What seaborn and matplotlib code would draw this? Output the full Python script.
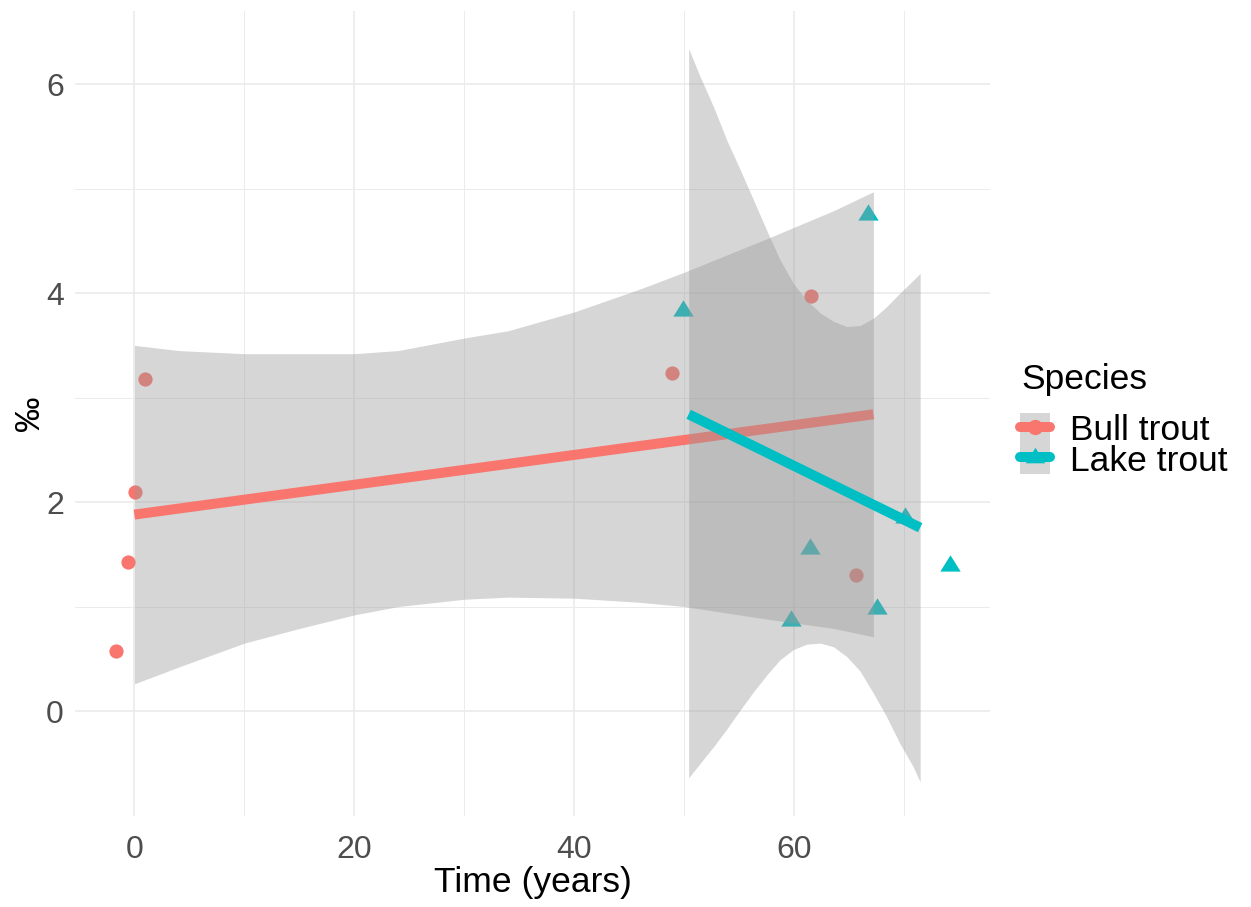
import matplotlib
matplotlib.use("Agg")
import matplotlib.pyplot as plt
import pandas as pd
import seaborn as sns
from matplotlib.lines import Line2D
from matplotlib.patches import Patch

# Observations (years since start, per-mil values)
bull_time = [-1.7, -0.55, 0.1, 1.0, 48.9, 61.5, 65.6]
bull_value = [0.57, 1.43, 2.10, 3.18, 3.24, 3.97, 1.30]
lake_time = [49.9, 59.7, 61.4, 66.7, 67.5, 70.1, 74.2]
lake_value = [3.84, 0.87, 1.56, 4.76, 0.985, 1.86, 1.40]

# Linear trend per species (end points of the fitted line)
bull_fit_time = [0.0, 67.2]
bull_fit_value = [1.88, 2.84]
lake_fit_time = [50.4, 71.45]
lake_fit_value = [2.84, 1.755]

# 95% confidence bands around each trend
bull_band_time = [0.0, 4.0, 10.0, 15.0, 20.0, 24.0, 30.0, 34.0, 40.0, 46.0, 50.0, 57.5, 63.6, 67.2]
bull_band_low = [0.26, 0.42, 0.65, 0.79, 0.92, 1.00, 1.07, 1.09, 1.08, 1.04, 1.00, 0.88, 0.79, 0.71]
bull_band_high = [3.50, 3.45, 3.42, 3.42, 3.42, 3.45, 3.57, 3.64, 3.82, 4.04, 4.20, 4.52, 4.79, 4.97]

lake_band_time = [50.4, 51.45, 52.67, 53.88, 55.09, 56.3, 57.5, 58.7, 59.94, 61.15,
                  62.36, 63.57, 64.79, 66.0, 67.2, 68.4, 69.6, 70.8, 71.45]
lake_band_low = [-0.64, -0.50, -0.34, -0.17, 0.01, 0.185, 0.345, 0.49, 0.59, 0.64,
                 0.65, 0.615, 0.52, 0.38, 0.17, -0.055, -0.31, -0.53, -0.68]
lake_band_high = [6.34, 6.07, 5.78, 5.46, 5.18, 4.89, 4.60, 4.32, 4.09, 3.93,
                  3.81, 3.73, 3.68, 3.69, 3.76, 3.87, 4.00, 4.12, 4.19]

species = ["Bull trout", "Lake trout"]
colors = {"Bull trout": "#F8766D", "Lake trout": "#00BFC4"}

sns.set_theme(style="white")
plt.rcParams["font.family"] = ["Liberation Sans", "DejaVu Sans"]

W, H = 1251, 907
fig = plt.figure(figsize=(W / 100, H / 100), dpi=100)
ax = fig.add_axes([75 / W, 1 - 815.5 / H, (990 - 75) / W, (815.5 - 11) / H])

pts_bull = pd.DataFrame({"Time": bull_time, "Value": bull_value})
pts_lake = pd.DataFrame({"Time": lake_time, "Value": lake_value})
tri = [(-1.0, -0.6), (1.0, -0.6), (0.0, 1.0)]

sns.scatterplot(data=pts_bull, x="Time", y="Value", color=colors["Bull trout"],
                marker="o", s=105, linewidth=0, ax=ax, zorder=2, legend=False)
sns.scatterplot(data=pts_lake, x="Time", y="Value", color=colors["Lake trout"],
                marker=tri, s=215, linewidth=0, ax=ax, zorder=2, legend=False)

band_grey = "#999999"
ax.fill_between(bull_band_time, bull_band_low, bull_band_high, color=band_grey,
                alpha=0.4, linewidth=0, zorder=3)
ax.plot(bull_fit_time, bull_fit_value, color=colors["Bull trout"], lw=7.2,
        solid_capstyle="butt", zorder=4)
ax.fill_between(lake_band_time, lake_band_low, lake_band_high, color=band_grey,
                alpha=0.4, linewidth=0, zorder=5)
ax.plot(lake_fit_time, lake_fit_value, color=colors["Lake trout"], lw=7.2,
        solid_capstyle="butt", zorder=6)

ax.set_xlim(-5.4, 77.8)
ax.set_ylim(-1.0, 6.7)
ax.set_xticks([0, 20, 40, 60])
ax.set_yticks([0, 2, 4, 6])
ax.set_xticks([10, 30, 50, 70], minor=True)
ax.set_yticks([-1, 1, 3, 5], minor=True)
ax.grid(True, which="major", color="#EBEBEB", lw=1.2, zorder=0)
ax.grid(True, which="minor", color="#EBEBEB", lw=0.7, zorder=0)
ax.set_axisbelow(True)
for sp in ax.spines.values():
    sp.set_visible(False)
ax.tick_params(axis="x", which="both", length=0, labelsize=23, labelcolor="#4D4D4D", pad=14)
ax.tick_params(axis="y", which="both", length=0, labelsize=23, labelcolor="#4D4D4D", pad=8)
ax.set_xlabel("Time (years)", fontsize=25.5, color="black", labelpad=1)
ax.set_ylabel("‰", fontsize=25.5, color="black", labelpad=0)

# Legend: title placed on its own, keys on a grey ribbon swatch
fig.text(1021 / W, 1 - 380 / H, "Species", fontsize=25.5, color="black",
         ha="left", va="center")
handles = []
for sp_name, mk in zip(species, ["o", tri]):
    bg = Patch(facecolor="#D6D6D6", edgecolor="none")
    ln = Line2D([0], [0], color=colors[sp_name], lw=7.2, marker=mk,
                markersize=11 if mk == "o" else 14, markeredgewidth=0)
    handles.append((bg, ln))

fig.legend(handles, species, loc="upper left", bbox_to_anchor=(1020 / W, 1 - 413 / H),
           fontsize=25.5, labelcolor="black", frameon=False, handlelength=0.86,
           handleheight=0.95, handletextpad=0.55, labelspacing=-0.12,
           borderaxespad=0, borderpad=0)

fig.savefig("out.png", dpi=100)
